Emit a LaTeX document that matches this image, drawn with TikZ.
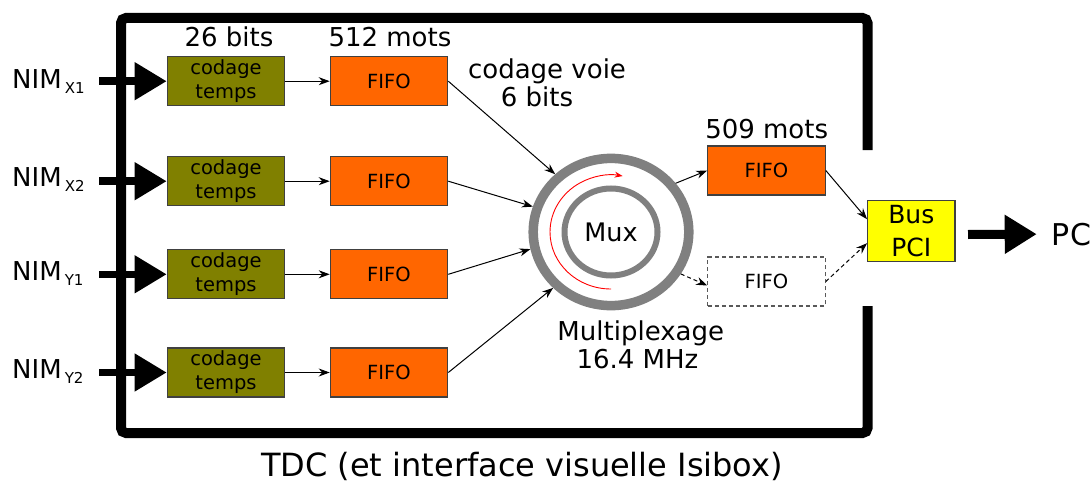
\documentclass[tikz,border=0pt]{standalone}
\usepackage{fontspec}
\setmainfont{DejaVu Sans}
\usetikzlibrary{arrows.meta,shapes.geometric}
\definecolor{olivebox}{HTML}{808000}
\definecolor{fifoorange}{HTML}{FF6600}
\definecolor{busyellow}{HTML}{FFFF00}
\definecolor{ringgray}{HTML}{808080}
\definecolor{edgegray}{HTML}{404040}
\newcommand{\nimsub}[1]{NIM\kern3pt\raisebox{-5pt}{\fontsize{15}{15}\selectfont #1}}
\begin{document}
\begin{tikzpicture}[x=1pt,y=1pt,
  box/.style={draw=edgegray, line width=1.2pt, minimum width=117.4pt, minimum height=49pt, inner sep=0pt, align=center, font=\fontsize{19.5}{24}\selectfont},
  codebox/.style={box, fill=olivebox},
  fifobox/.style={box, fill=fifoorange},
  ghostbox/.style={box, draw=black!65, dash pattern=on 4pt off 3pt},
  lbl/.style={inner sep=0pt, font=\fontsize{26}{28}\selectfont},
  nimlbl/.style={inner sep=0pt, anchor=base west, font=\fontsize{26}{28}\selectfont},
  conn/.style={line width=1pt, -{Stealth[length=11pt,width=8pt]}},
  dconn/.style={conn, dash pattern=on 4pt off 3pt},
  fat/.style={line width=7.5pt, -{Triangle[length=32pt,width=36pt]}}]
\useasboundingbox (0,0) rectangle (1091,-484);

% frame
\draw[line width=10pt, rounded corners=5pt] (867.5,-150) -- (867.5,-18) -- (121,-18) -- (121,-433) -- (867.5,-433) -- (867.5,-306);

% rows
\node[codebox] (c1) at (226,-81.2) {codage\\temps};
\node[codebox] (c2) at (226,-181.2) {codage\\temps};
\node[codebox] (c3) at (226,-274.3) {codage\\temps};
\node[codebox] (c4) at (226,-372.5) {codage\\temps};
\node[fifobox] (f1) at (389,-81.2) {FIFO};
\node[fifobox] (f2) at (389,-181.2) {FIFO};
\node[fifobox] (f3) at (389,-274.3) {FIFO};
\node[fifobox] (f4) at (389,-372.5) {FIFO};

% NIM labels
\node[nimlbl] (n1) at (12,-88.3) {\nimsub{X1}};
\node[nimlbl] (n2) at (12,-186.7) {\nimsub{X2}};
\node[nimlbl] (n3) at (12,-280) {\nimsub{Y1}};
\node[nimlbl] (n4) at (12,-378.3) {\nimsub{Y2}};
\coordinate (s1) at (99,-81.2);
\coordinate (s2) at (99,-181.2);
\coordinate (s3) at (99,-274.3);
\coordinate (s4) at (99,-372.5);
\draw[fat] (s1) -- (c1.west);
\draw[fat] (s2) -- (c2.west);
\draw[fat] (s3) -- (c3.west);
\draw[fat] (s4) -- (c4.west);

\draw[conn] (c1.east) -- (f1.west);
\draw[conn] (c2.east) -- (f2.west);
\draw[conn] (c3.east) -- (f3.west);
\draw[conn] (c4.east) -- (f4.west);

% top labels
\node[lbl, anchor=base] (l26) at (229,-47) {26 bits};
\node[lbl, anchor=base] (l512) at (390,-47) {512 mots};
\node[lbl, anchor=base] (lcv) at (547,-79) {codage voie};
\node[lbl, anchor=base] (l6b) at (537,-106.7) {6 bits};

% mux
\node[ellipse, draw=ringgray, line width=9.5pt, minimum width=155.6pt, minimum height=147.2pt, inner sep=0pt] (ring) at (611,-232) {};
\node[ellipse, draw=ringgray, line width=6pt, minimum width=93pt, minimum height=87pt, inner sep=0pt, font=\fontsize{25.5}{28}\selectfont] (mux) at (611,-232) {Mux};
\draw[red, line width=0.9pt, -{Stealth[length=8pt,width=6pt]}] ([yshift=-57pt]mux.center) arc[start angle=270, end angle=79, x radius=61, y radius=57];
\node[lbl, anchor=base] (lmp) at (640.8,-340) {Multiplexage};
\node[lbl, anchor=base] (lmhz) at (637.5,-368) {16.4 MHz};

\draw[conn] (f1.east) -- (ring.134.5);
\draw[conn] (f2.east) -- (ring.162.3);
\draw[conn] (f3.east) -- (ring.192.5);
\draw[conn] (f4.east) -- (ring.224);

% output fifos
\node[fifobox] (fa) at (766.5,-170.5) {FIFO};
\node[ghostbox] (fb) at (766.5,-281.5) {FIFO};
\node[lbl, anchor=base] (l509) at (766.7,-138) {509 mots};
\draw[conn] (ring.37) -- (fa.west);
\draw[dconn] (ring.-31.4) -- ([yshift=-4pt]fb.west);

% bus
\node[draw=edgegray, line width=1.2pt, fill=busyellow, minimum width=87.3pt, minimum height=61pt, inner sep=0pt, align=center, font=\fontsize{25}{33}\selectfont] (bus) at (911.3,-231.2) {Bus\\PCI};
\draw[conn] (fa.east) -- ([yshift=12pt]bus.west);
\draw[dconn] (fb.east) -- ([yshift=-12pt]bus.west);

\node[inner sep=0pt, anchor=base west, font=\fontsize{30}{32}\selectfont] (pc) at (1051.7,-245) {PC};
\coordinate (pcs) at (968,-234.5);
\draw[line width=9pt, -{Triangle[length=32pt,width=37pt]}, shorten >=15pt] (pcs) -- (pc.west);

\node[inner sep=0pt, anchor=base, font=\fontsize{32}{34}\selectfont] (tdc) at (522,-476.5) {TDC (et interface visuelle Isibox)};
\end{tikzpicture}
\end{document}
